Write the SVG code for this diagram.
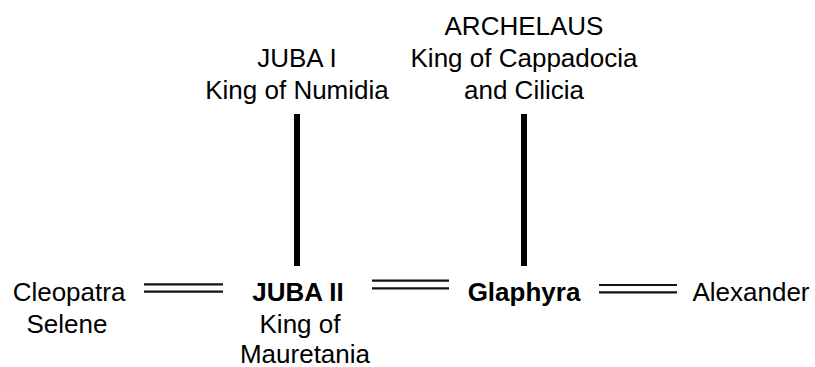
<svg xmlns="http://www.w3.org/2000/svg" width="815" height="367" viewBox="0 0 815 367">
  <style>
    text { font-family: "Liberation Sans", Arial, sans-serif; font-size: 26px; fill: #000; text-anchor: middle; }
    .b { font-weight: bold; }
    .descent { stroke: #000; stroke-width: 6; }
    .marriage { stroke: #111; stroke-width: 2.2; }
  </style>
  <rect width="815" height="367" fill="#fff"/>

  <g id="connectors">
    <!-- lines of descent -->
    <line class="descent" x1="297" y1="114" x2="297" y2="266"/>
    <line class="descent" x1="524" y1="114" x2="524" y2="266"/>
    <!-- marriages -->
    <line class="marriage" x1="144" y1="284.3" x2="223" y2="284.3"/>
    <line class="marriage" x1="144" y1="291.7" x2="223" y2="291.7"/>
    <line class="marriage" x1="372" y1="280.7" x2="449" y2="280.7"/>
    <line class="marriage" x1="372" y1="288.3" x2="449" y2="288.3"/>
    <line class="marriage" x1="599" y1="285" x2="677" y2="285"/>
    <line class="marriage" x1="599" y1="292.3" x2="677" y2="292.3"/>
  </g>

  <g id="juba1">
    <text x="297" y="67">JUBA I</text>
    <text x="297" y="99">King of Numidia</text>
  </g>

  <g id="archelaus">
    <text x="524" y="35">ARCHELAUS</text>
    <text x="524" y="67">King of Cappadocia</text>
    <text x="524" y="99">and Cilicia</text>
  </g>

  <g id="cleopatra-selene">
    <text x="69" y="300.5">Cleopatra</text>
    <text x="67" y="333">Selene</text>
  </g>

  <g id="juba2">
    <text class="b" x="298" y="300.5">JUBA II</text>
    <text x="300" y="333">King of</text>
    <text x="305" y="362.5">Mauretania</text>
  </g>

  <g id="glaphyra">
    <text class="b" x="524" y="300.5">Glaphyra</text>
  </g>

  <g id="alexander">
    <text x="751" y="300.5">Alexander</text>
  </g>
</svg>
